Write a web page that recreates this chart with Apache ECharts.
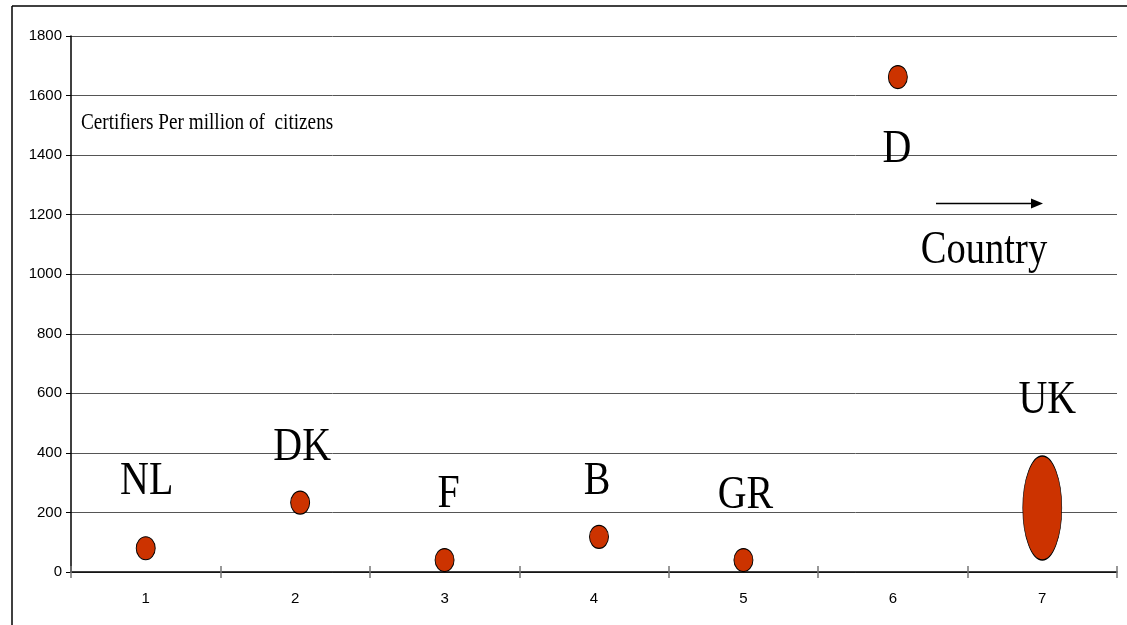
<!DOCTYPE html>
<html>
<head>
<meta charset="utf-8">
<script src="https://cdn.jsdelivr.net/npm/echarts@6/dist/echarts.min.js"></script>
<style>
html,body{margin:0;padding:0;background:#fff;}
#chart{width:1127px;height:625px;}
</style>
</head>
<body>
<div id="chart"></div>
<script>
// ---- data ----
var categories = ['1', '2', '3', '4', '5', '6', '7'];
var countries = ['NL', 'DK', 'F', 'B', 'GR', 'D', 'UK'];
var values = [80, 233, 40, 118, 40, 1662, 215];
var yTicks = [0, 200, 400, 600, 800, 1000, 1200, 1400, 1600, 1800];
var yTitle = 'Certifiers Per million of  citizens';
var xTitle = 'Country';

// ---- styles (not data) ----
var dotSizes = [[19, 23], [19, 23], [19, 23], [19, 23], [19, 23], [19, 23], [39, 104]];
var dotShift = [[0, 0], [5, 0], [0, 0], [5, 0], [0, 0], [5, 0], [0, 0]];
var labelOffsets = [[1, -67], [7, -55], [4, -65], [3, -55], [2, -64], [4, 73], [5, -107]];

var chart = echarts.init(document.getElementById('chart'), null, {renderer: 'canvas'});

var scatterData = values.map(function (v, i) {
  return {value: [i, v], symbolSize: dotSizes[i], symbolOffset: dotShift[i]};
});
var labelData = values.map(function (v, i) { return [i, v]; });

var option = {
  backgroundColor: '#fff',
  animation: false,
  grid: {left: 71, right: 10, top: 36, bottom: 53, containLabel: false},
  xAxis: [{
    type: 'category',
    data: categories,
    boundaryGap: true,
    axisLine: {show: true, lineStyle: {color: '#000', width: 1.5}},
    axisTick: {show: true, inside: false, length: 6, lineStyle: {color: '#777', width: 1.5}},
    axisLabel: {margin: 19, color: '#000', fontFamily: '"Liberation Sans", Arial, sans-serif', fontSize: 15},
    splitLine: {show: false}
  }, {
    type: 'category',
    data: categories,
    position: 'bottom',
    boundaryGap: true,
    axisLine: {show: false},
    axisTick: {show: true, inside: true, length: 6, lineStyle: {color: '#777', width: 1.5}},
    axisLabel: {show: false},
    splitLine: {show: false}
  }],
  yAxis: {
    type: 'value',
    min: yTicks[0],
    max: yTicks[yTicks.length - 1],
    interval: yTicks[1] - yTicks[0],
    axisLine: {show: true, lineStyle: {color: '#000', width: 1.5}},
    axisTick: {show: true, inside: false, length: 5, lineStyle: {color: '#000', width: 1}},
    axisLabel: {
      margin: 9, color: '#000', fontFamily: '"Liberation Sans", Arial, sans-serif', fontSize: 15,
      formatter: function (v) { return String(v); }
    },
    splitLine: {show: true, lineStyle: {color: '#555', width: 1}}
  },
  series: [{
    type: 'scatter',
    xAxisIndex: 0,
    symbol: 'circle',
    data: scatterData,
    itemStyle: {color: '#CC3300', borderColor: '#000', borderWidth: 1, opacity: 1},
    z: 3
  }, {
    type: 'custom',
    xAxisIndex: 0,
    data: labelData,
    z: 4,
    renderItem: function (params, api) {
      var i = params.dataIndex;
      var p = api.coord([api.value(0), api.value(1)]);
      var off = labelOffsets[i];
      return {
        type: 'text',
        x: p[0] + off[0],
        y: p[1] + off[1],
        scaleX: 0.85,
        style: {
          text: countries[i],
          font: '47px "Liberation Serif", "Times New Roman", serif',
          fill: '#000',
          align: 'center',
          verticalAlign: 'middle'
        }
      };
    }
  }],
  graphic: [
    {type: 'line', shape: {x1: 12, y1: 6, x2: 12, y2: 625}, style: {stroke: '#000', lineWidth: 1.5}},
    {type: 'line', shape: {x1: 12, y1: 6, x2: 1127, y2: 6}, style: {stroke: '#000', lineWidth: 1.5}},
    {type: 'text', x: 81, y: 123, scaleX: 0.8,
      style: {text: yTitle, font: '24px "Liberation Serif", "Times New Roman", serif', fill: '#000', align: 'left', verticalAlign: 'middle'}},
    {type: 'line', shape: {x1: 936, y1: 203.5, x2: 1032, y2: 203.5}, style: {stroke: '#000', lineWidth: 1.5}},
    {type: 'polygon', shape: {points: [[1031, 198.5], [1043, 203.5], [1031, 208.5]]}, style: {fill: '#000'}},
    {type: 'text', x: 984, y: 251, scaleX: 0.82,
      style: {text: xTitle, font: '47px "Liberation Serif", "Times New Roman", serif', fill: '#000', align: 'center', verticalAlign: 'middle'}}
  ]
};

chart.setOption(option);
</script>
</body>
</html>
